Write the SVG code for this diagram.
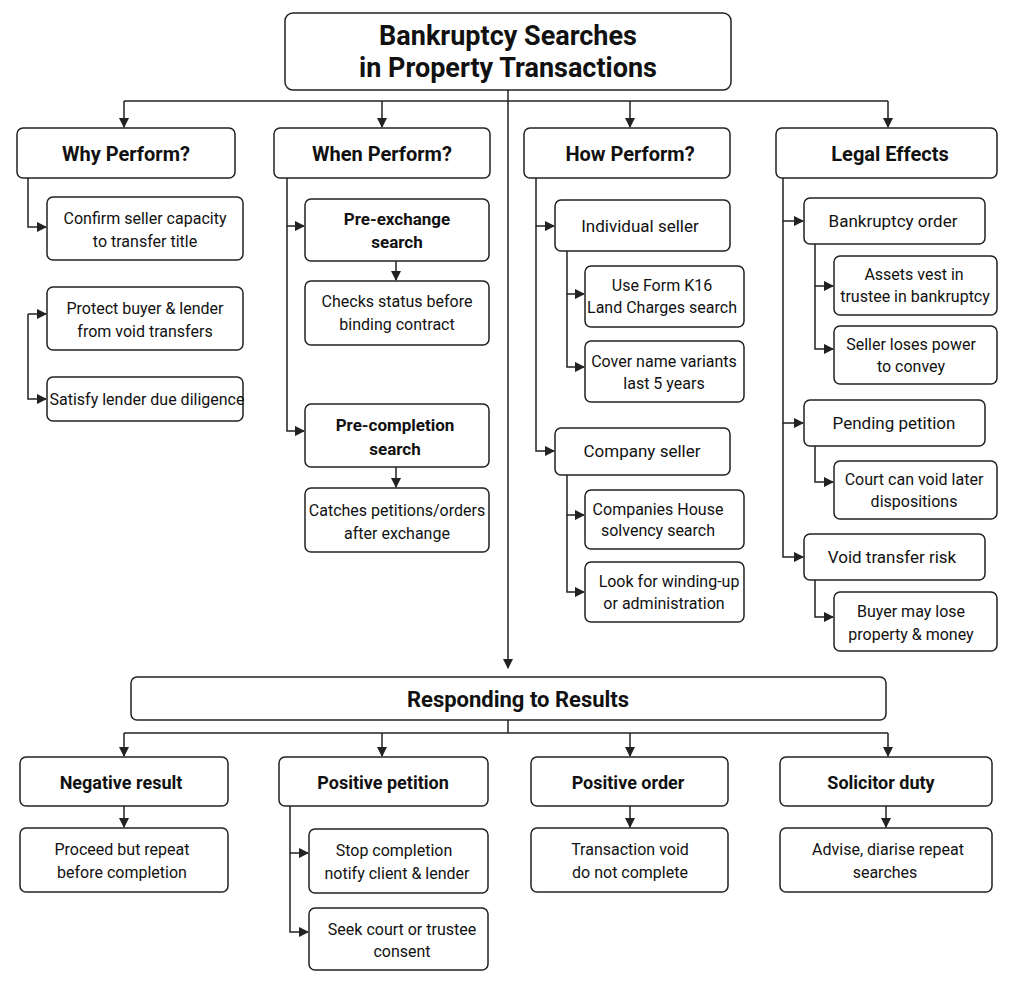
<svg xmlns="http://www.w3.org/2000/svg" width="1014" height="988" viewBox="0 0 1014 988">
<style>
rect{fill:#fff;stroke:#222;stroke-width:1.5}
text{font-family:Roboto,"Liberation Sans",sans-serif;fill:#111;text-anchor:middle}
.t{font-size:27px;font-weight:bold}
.h{font-size:20px;font-weight:bold}
.b{font-size:16px}
.s{font-size:17px;font-weight:bold}
#c path{fill:none;stroke:#222;stroke-width:1.5;marker-end:url(#a)}
#c line{stroke:#222;stroke-width:1.5}
</style>
<defs><marker id="a" viewBox="0 0 10 10" refX="9" refY="5" markerWidth="7" markerHeight="7" orient="auto"><path d="M0,0L10,5L0,10z" fill="#222"/></marker></defs>
<rect width="1014" height="988" style="fill:#fff;stroke:none"/>
<g id="c">
<line x1="508" y1="90" x2="508" y2="101"/><line x1="124" y1="101" x2="888" y2="101"/>
<path d="M124,101V127"/><path d="M382,101V127"/><path d="M630,101V127"/><path d="M888,101V127"/>
<path d="M508,101V668"/>
<path d="M28,178V227H46"/><path d="M28,314H46"/><path d="M28,314V399H46"/>
<path d="M287,178V226H304"/><path d="M287,226V431H304"/><path d="M396,261V280"/><path d="M396,467V487"/>
<path d="M536,178V226H554"/><path d="M536,226V451H554"/>
<path d="M567,251V294H584"/><path d="M567,294V367H584"/>
<path d="M567,475V515H584"/><path d="M567,515V592H584"/>
<path d="M783,178V221H803"/><path d="M783,221V423H803"/><path d="M783,423V557H803"/>
<path d="M815,244V286H833"/><path d="M815,286V349H833"/>
<path d="M815,446V482H833"/><path d="M815,580V617H833"/>
<line x1="124" y1="733" x2="888" y2="733"/><line x1="508" y1="720" x2="508" y2="733"/>
<path d="M124,733V756"/><path d="M382,733V756"/><path d="M630,733V756"/><path d="M888,733V756"/>
<path d="M124,806V827"/><path d="M630,806V827"/><path d="M886,806V827"/>
<path d="M290,806V853H308"/><path d="M290,853V932H308"/>
</g>
<g id="title"><rect x="285" y="13" width="446" height="77" rx="8"/><text class="t" x="508" y="45">Bankruptcy Searches</text><text class="t" x="508" y="77">in Property Transactions</text></g>
<g id="why"><rect x="17" y="128" width="218" height="50" rx="6"/><text class="h" x="126" y="161">Why Perform?</text></g>
<g id="when"><rect x="274" y="128" width="216" height="50" rx="6"/><text class="h" x="382" y="161">When Perform?</text></g>
<g id="how"><rect x="524" y="128" width="206" height="50" rx="6"/><text class="h" x="630" y="161">How Perform?</text></g>
<g id="legal"><rect x="776" y="128" width="221" height="50" rx="6"/><text class="h" x="890" y="161">Legal Effects</text></g>
<g id="w1"><rect x="47" y="197" width="196" height="63" rx="6"/><text class="b" x="145" y="224">Confirm seller capacity</text><text class="b" x="145" y="247">to transfer title</text></g>
<g id="w2"><rect x="47" y="287" width="196" height="63" rx="6"/><text class="b" x="145" y="314">Protect buyer &amp; lender</text><text class="b" x="145" y="337">from void transfers</text></g>
<g id="w3"><rect x="47" y="377" width="196" height="44" rx="6"/><text class="b" x="147" y="405">Satisfy lender due diligence</text></g>
<g id="e1"><rect x="305" y="199" width="184" height="62" rx="6"/><text class="s" x="397" y="225">Pre-exchange</text><text class="s" x="397" y="248">search</text></g>
<g id="e2"><rect x="305" y="281" width="184" height="64" rx="6"/><text class="b" x="397" y="307">Checks status before</text><text class="b" x="397" y="330">binding contract</text></g>
<g id="e3"><rect x="305" y="404" width="184" height="63" rx="6"/><text class="s" x="395" y="431">Pre-completion</text><text class="s" x="395" y="455">search</text></g>
<g id="e4"><rect x="305" y="488" width="184" height="64" rx="6"/><text class="b" x="397" y="516">Catches petitions/orders</text><text class="b" x="397" y="539">after exchange</text></g>
<g id="h1"><rect x="555" y="200" width="175" height="51" rx="6"/><text class="b" x="640" y="232" style="font-size:17px">Individual seller</text></g>
<g id="h2"><rect x="585" y="266" width="159" height="61" rx="6"/><text class="b" x="662" y="291">Use Form K16</text><text class="b" x="662" y="313">Land Charges search</text></g>
<g id="h3"><rect x="585" y="341" width="159" height="61" rx="6"/><text class="b" x="664" y="367">Cover name variants</text><text class="b" x="664" y="389">last 5 years</text></g>
<g id="h4"><rect x="555" y="428" width="175" height="47" rx="6"/><text class="b" x="642" y="457" style="font-size:17px">Company seller</text></g>
<g id="h5"><rect x="585" y="490" width="159" height="59" rx="6"/><text class="b" x="658" y="515">Companies House</text><text class="b" x="658" y="536">solvency search</text></g>
<g id="h6"><rect x="585" y="562" width="159" height="60" rx="6"/><text class="b" x="669" y="587">Look for winding-up</text><text class="b" x="664" y="609">or administration</text></g>
<g id="l1"><rect x="804" y="198" width="181" height="46" rx="6"/><text class="b" x="893" y="227" style="font-size:17px">Bankruptcy order</text></g>
<g id="l2"><rect x="834" y="256" width="163" height="59" rx="6"/><text class="b" x="914" y="280">Assets vest in</text><text class="b" x="915" y="302">trustee in bankruptcy</text></g>
<g id="l3"><rect x="834" y="326" width="163" height="58" rx="6"/><text class="b" x="911" y="350">Seller loses power</text><text class="b" x="911" y="372">to convey</text></g>
<g id="l4"><rect x="804" y="400" width="181" height="46" rx="6"/><text class="b" x="894" y="429" style="font-size:17px">Pending petition</text></g>
<g id="l5"><rect x="834" y="461" width="163" height="58" rx="6"/><text class="b" x="914" y="485">Court can void later</text><text class="b" x="914" y="507">dispositions</text></g>
<g id="l6"><rect x="804" y="534" width="181" height="46" rx="6"/><text class="b" x="892" y="563" style="font-size:17px">Void transfer risk</text></g>
<g id="l7"><rect x="834" y="592" width="163" height="59" rx="6"/><text class="b" x="911" y="617">Buyer may lose</text><text class="b" x="911" y="640">property &amp; money</text></g>
<g id="resp"><rect x="131" y="677" width="755" height="43" rx="6"/><text class="h" x="518" y="707" style="font-size:22px">Responding to Results</text></g>
<g id="r1"><rect x="20" y="757" width="208" height="49" rx="6"/><text class="s" x="121" y="789" style="font-size:18px">Negative result</text></g>
<g id="r2"><rect x="279" y="757" width="209" height="49" rx="6"/><text class="s" x="383" y="789" style="font-size:18px">Positive petition</text></g>
<g id="r3"><rect x="531" y="757" width="197" height="49" rx="6"/><text class="s" x="628" y="789" style="font-size:18px">Positive order</text></g>
<g id="r4"><rect x="780" y="757" width="212" height="49" rx="6"/><text class="s" x="881" y="789" style="font-size:18px">Solicitor duty</text></g>
<g id="r1a"><rect x="20" y="828" width="208" height="64" rx="6"/><text class="b" x="122" y="855">Proceed but repeat</text><text class="b" x="122" y="878">before completion</text></g>
<g id="r2a"><rect x="309" y="829" width="179" height="64" rx="6"/><text class="b" x="394" y="856">Stop completion</text><text class="b" x="397" y="879">notify client &amp; lender</text></g>
<g id="r2b"><rect x="309" y="908" width="179" height="62" rx="6"/><text class="b" x="402" y="935">Seek court or trustee</text><text class="b" x="402" y="957">consent</text></g>
<g id="r3a"><rect x="531" y="828" width="197" height="64" rx="6"/><text class="b" x="630" y="855">Transaction void</text><text class="b" x="630" y="878">do not complete</text></g>
<g id="r4a"><rect x="780" y="828" width="212" height="64" rx="6"/><text class="b" x="888" y="855">Advise, diarise repeat</text><text class="b" x="885" y="878">searches</text></g>
</svg>
